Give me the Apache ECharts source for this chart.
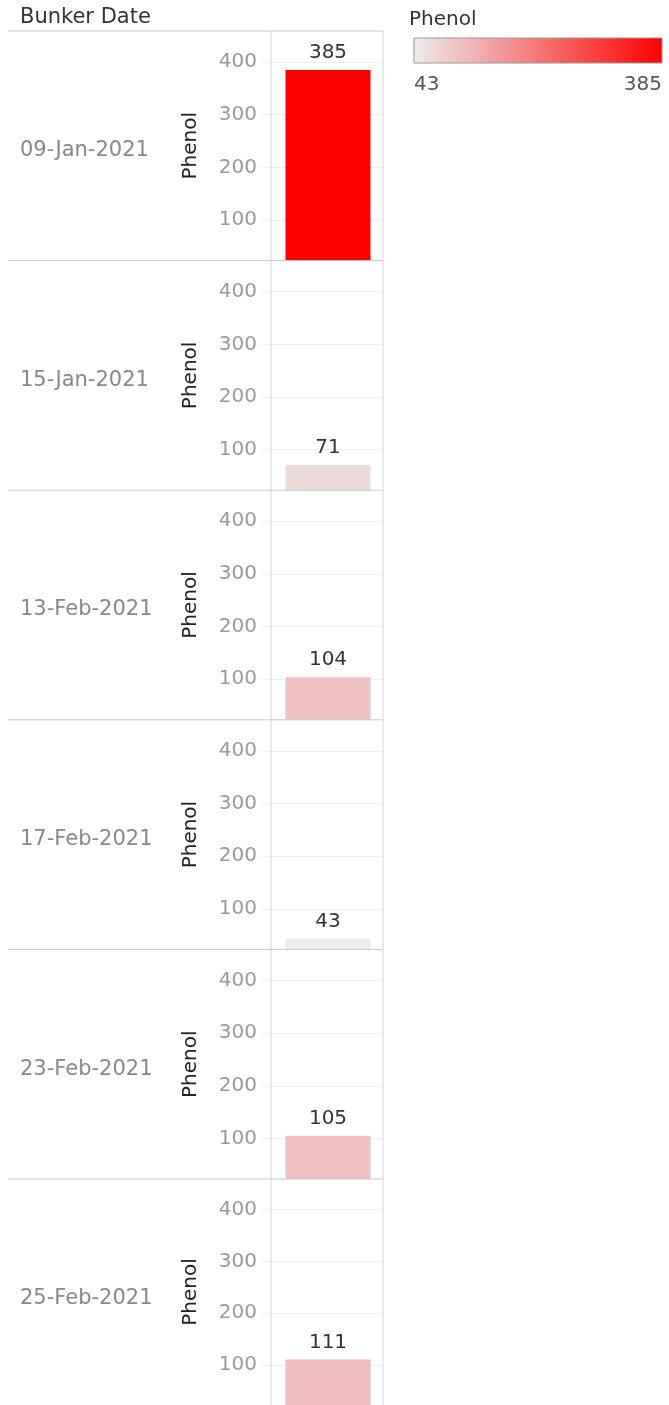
<!DOCTYPE html>
<html>
<head>
<meta charset="utf-8">
<script src="https://cdn.jsdelivr.net/npm/echarts@6/dist/echarts.min.js"></script>
<style>
  html, body { margin: 0; padding: 0; background: #fff; }
  #chart { width: 669px; height: 1405px; }
</style>
</head>
<body>
<div id="chart"></div>
<script>
// data
var dates = ["09-Jan-2021", "15-Jan-2021", "13-Feb-2021", "17-Feb-2021", "23-Feb-2021", "25-Feb-2021"];
var phenol = [385, 71, 104, 43, 105, 111];
var yTicks = [100, 200, 300, 400];

var font = "DejaVu Sans";
var panelTop = 31;
var panelH = 229.6;
var colLeft = 271;
var colRight = 383;

var minVal = Math.min.apply(null, phenol);
var maxVal = Math.max.apply(null, phenol);

var chart = echarts.init(document.getElementById("chart"));

var grids = [], xAxes = [], yAxes = [], series = [], graphics = [];

dates.forEach(function (d, i) {
  var top = panelTop + panelH * i;
  // grid nudged 2px right so the bar sits where it does in the picture
  grids.push({ left: colLeft + 2, width: colRight - colLeft - 2, top: top, height: panelH });
  xAxes.push({
    type: "category", gridIndex: i, data: [d],
    axisLine: { show: false }, axisTick: { show: false }, axisLabel: { show: false }
  });
  yAxes.push({
    type: "value", gridIndex: i, min: 23, max: 459,
    name: "Phenol", nameLocation: "middle", nameGap: 72, nameRotate: 90,
    nameTextStyle: { fontFamily: font, fontSize: 20, color: "#222" },
    axisLine: { show: false },
    axisTick: { show: true, customValues: yTicks, length: 11, lineStyle: { color: "#efefef" } },
    axisLabel: { customValues: yTicks, fontFamily: font, fontSize: 20, color: "#999", margin: 16 },
    splitLine: { show: true, lineStyle: { color: "#efefef" } }
  });
  series.push({
    type: "bar", xAxisIndex: i, yAxisIndex: i,
    data: [phenol[i]], barWidth: 85,
    label: { show: true, position: "top", distance: 7, fontFamily: font, fontSize: 20, color: "#333" }
  });
  // date row header
  graphics.push({
    type: "text", x: 20, y: top + panelH / 2 + 5,
    style: { text: d, font: "21px '" + font + "'", fill: "#888", verticalAlign: "middle" }
  });
  // row separator
  if (i > 0) {
    graphics.push({
      type: "line", shape: { x1: 8, y1: top, x2: colRight, y2: top },
      style: { stroke: "#c8c8c8", lineWidth: 1 }, z: 10
    });
  }
});

// header line and column borders
graphics.push(
  { type: "line", shape: { x1: 8, y1: panelTop, x2: colRight, y2: panelTop }, style: { stroke: "#c8c8c8", lineWidth: 1 }, z: 10 },
  { type: "line", shape: { x1: colLeft, y1: panelTop, x2: colLeft, y2: 1405 }, style: { stroke: "#d4d4d4", lineWidth: 1 }, z: 10 },
  { type: "line", shape: { x1: colRight, y1: panelTop, x2: colRight, y2: 1405 }, style: { stroke: "#d4d4d4", lineWidth: 1 }, z: 10 },
  { type: "text", x: 20, y: 18, style: { text: "Bunker Date", font: "21px '" + font + "'", fill: "#333", verticalAlign: "middle" } },
  // colour legend
  { type: "text", x: 409, y: 20, style: { text: "Phenol", font: "20px '" + font + "'", fill: "#333", verticalAlign: "middle" } },
  {
    type: "rect", shape: { x: 414, y: 38, width: 248, height: 25 },
    style: {
      fill: new echarts.graphic.LinearGradient(0, 0, 1, 0, [
        { offset: 0, color: "#ececec" }, { offset: 1, color: "#ff0000" }
      ]),
      stroke: "#999", lineWidth: 1
    }
  },
  { type: "text", x: 414, y: 85, style: { text: String(minVal), font: "20px '" + font + "'", fill: "#555", verticalAlign: "middle" } },
  { type: "text", x: 662, y: 85, style: { text: String(maxVal), font: "20px '" + font + "'", fill: "#555", align: "right", verticalAlign: "middle" } }
);

var option = {
  animation: false,
  grid: grids,
  xAxis: xAxes,
  yAxis: yAxes,
  visualMap: {
    show: false, type: "continuous", min: minVal, max: maxVal,
    seriesIndex: series.map(function (s, i) { return i; }),
    inRange: { color: ["#ececec", "#ff0000"] }
  },
  series: series,
  graphic: graphics
};

option && chart.setOption(option);
</script>
</body>
</html>
